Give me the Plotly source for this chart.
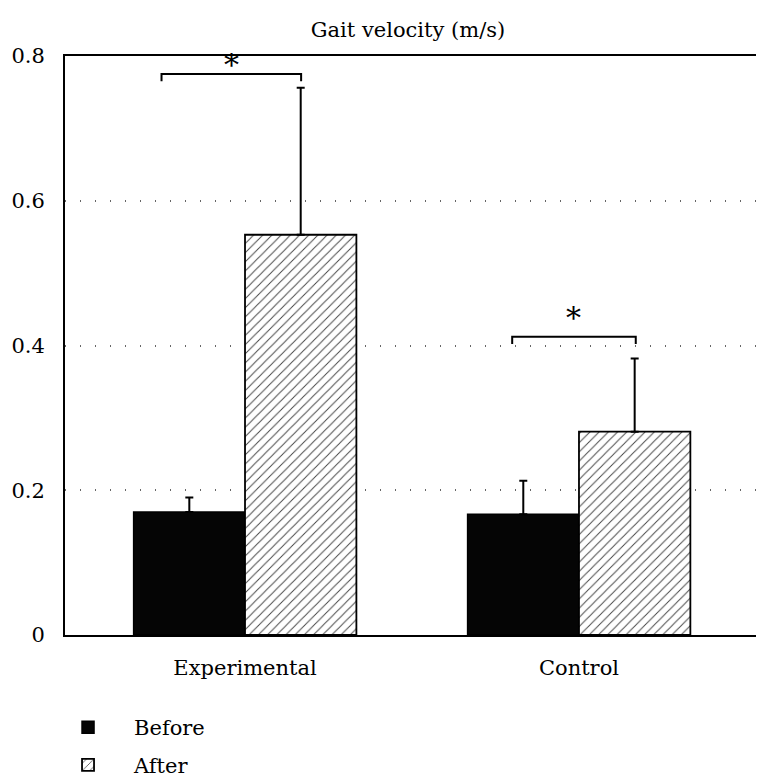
import plotly.graph_objects as go

# ---- data ----
groups = ["Experimental", "Control"]
group_pos = [0, 1]
before_mean = [0.170, 0.167]
before_sd = [0.020, 0.046]
after_mean = [0.553, 0.281]
after_sd = [0.203, 0.101]
y_tick_vals = [0, 0.2, 0.4, 0.6, 0.8]
y_tick_text = ["0", "0.2", "0.4", "0.6", "0.8"]
# significance brackets (level in data units, offsets relative to group centre)
sig_level = [0.775, 0.412]
sig_left = [-0.25, -0.20]
sig_right = [0.168, 0.17]
sig_label = ["*", "*"]

FONT = "DejaVu Serif"

fig = go.Figure()
fig.add_trace(go.Bar(
    x=group_pos, y=before_mean, name="Before",
    marker=dict(color="#050505", line=dict(color="#000", width=1.5)),
    error_y=dict(type="data", array=before_sd, arrayminus=[0] * len(before_sd), symmetric=False,
                 color="#000", thickness=2, width=4),
    legend="legend",
))
fig.add_trace(go.Bar(
    x=group_pos, y=after_mean, name="After",
    marker=dict(color="white", line=dict(color="#000", width=1.8),
                pattern=dict(shape="/", fgcolor="#444", bgcolor="white", size=6.5, solidity=0.15)),
    error_y=dict(type="data", array=after_sd, arrayminus=[0] * len(after_sd), symmetric=False,
                 color="#000", thickness=2, width=4),
    legend="legend2",
))

shapes = []
annotations = []
tick = 0.01
for i, g in enumerate(group_pos):
    x0 = g + sig_left[i]
    x1 = g + sig_right[i]
    y = sig_level[i]
    shapes.append(dict(type="path", xref="x", yref="y",
                       path=f"M {x0},{y - tick} L {x0},{y} L {x1},{y} L {x1},{y - tick}",
                       line=dict(color="#000", width=2)))
    annotations.append(dict(x=(x0 + x1) / 2, y=y, xref="x", yref="y", text=sig_label[i],
                            showarrow=False, yanchor="bottom",
                            yshift=(-10 if i == 0 else 0),
                            font=dict(family=FONT, size=30, color="#000")))

fig.update_layout(
    template="none",
    width=764, height=779,
    margin=dict(l=57, r=11, t=48, b=152, pad=0, autoexpand=False),
    paper_bgcolor="white", plot_bgcolor="white",
    barmode="group", bargap=0.333, bargroupgap=0,
    font=dict(family=FONT, size=21, color="#000"),
    title=dict(text="Gait velocity (m/s)", x=0.5236, xanchor="center", xref="container",
               y=0.972, yanchor="middle", yref="container",
               font=dict(family=FONT, size=21, color="#000")),
    shapes=shapes,
    annotations=annotations,
    legend=dict(x=-0.033, y=-0.16, xanchor="left", yanchor="middle", orientation="v",
                font=dict(family=FONT, size=21), bgcolor="rgba(0,0,0,0)", itemwidth=82),
    legend2=dict(x=-0.033, y=-0.225, xanchor="left", yanchor="middle", orientation="v",
                 font=dict(family=FONT, size=21), bgcolor="rgba(0,0,0,0)", itemwidth=82),
    showlegend=True,
)
fig.update_xaxes(range=[-0.539, 1.545], tickvals=group_pos, ticktext=groups, automargin=False,
                 showline=True, linecolor="#000", linewidth=2, mirror=True,
                 ticks="", showgrid=False, zeroline=False, ticklabelstandoff=13)
fig.update_yaxes(range=[0, 0.8], tickvals=y_tick_vals, ticktext=y_tick_text, automargin=False,
                 showline=True, linecolor="#000", linewidth=2, mirror=True,
                 ticks="", showgrid=True, gridcolor="#666", gridwidth=1.5, griddash="1px,14px",
                 zeroline=False, ticklabelstandoff=14)

fig.write_html("out.html")
